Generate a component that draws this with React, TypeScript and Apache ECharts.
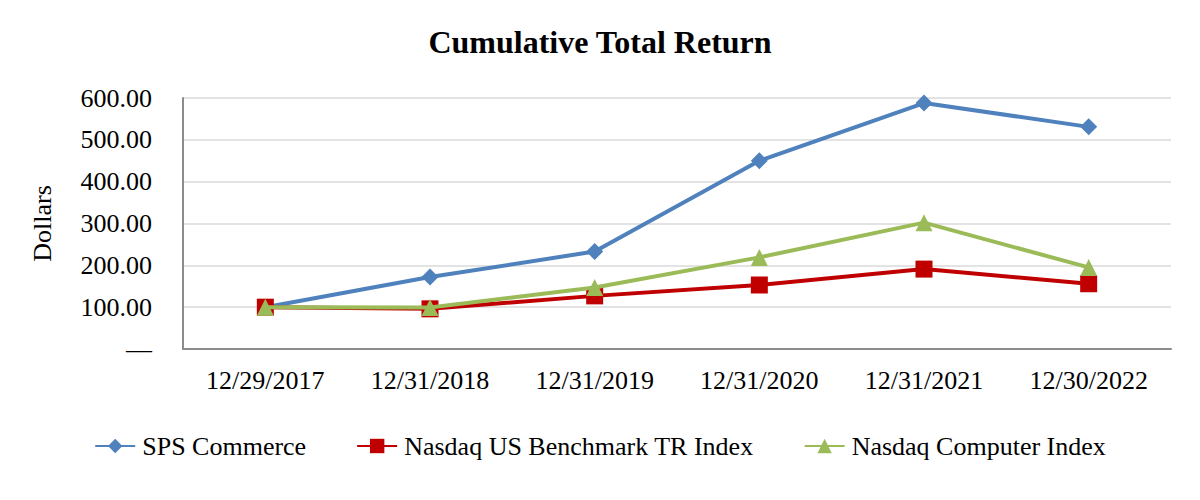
import React, { useEffect, useRef } from "react";
import * as echarts from "echarts";

const categories = ["12/29/2017", "12/31/2018", "12/31/2019", "12/31/2020", "12/31/2021", "12/30/2022"];
const spsCommerce = [100, 172, 233, 450, 588, 531];
const nasdaqBenchmark = [100, 96, 127, 153, 191, 156];
const nasdaqComputer = [100, 99, 147, 219, 302, 195];
const seriesNames = ["SPS Commerce", "Nasdaq US Benchmark TR Index", "Nasdaq Computer Index"];

const FONT = "'Liberation Serif', 'Times New Roman', serif";

export default function App() {
  const ref = useRef<HTMLDivElement>(null);
  useEffect(() => {
    document.body.style.margin = "0";
    const chart = echarts.init(ref.current!, null, { renderer: "svg" });
    chart.setOption({
      animation: false,
      backgroundColor: "#ffffff",
      title: {
        text: "Cumulative Total Return",
        left: "center",
        top: 21,
        textStyle: { fontFamily: FONT, fontSize: 32, fontWeight: "bold", color: "#000" },
      },
      legend: {
        bottom: 36,
        left: "center",
        itemWidth: 40,
        itemHeight: 18,
        itemGap: 50,
        textStyle: { fontFamily: FONT, fontSize: 26, color: "#000", padding: [0, 0, 0, 2] },
        data: seriesNames,
      },
      grid: { left: 183, right: 29, top: 98, bottom: 151 },
      xAxis: {
        type: "category",
        data: categories,
        boundaryGap: true,
        axisLine: { lineStyle: { color: "#8c8c8c", width: 2 } },
        axisTick: { alignWithLabel: true, length: 9, lineStyle: { color: "#8c8c8c", width: 2 } },
        axisLabel: { fontFamily: FONT, fontSize: 26, color: "#000", margin: 18 },
      },
      yAxis: {
        type: "value",
        min: 0,
        max: 600,
        interval: 100,
        name: "Dollars",
        nameLocation: "middle",
        nameGap: 128,
        nameTextStyle: { fontFamily: FONT, fontSize: 26, color: "#000" },
        axisLine: { show: true, lineStyle: { color: "#8c8c8c", width: 2 } },
        axisTick: { show: false },
        splitLine: { lineStyle: { color: "#e3e3e3", width: 2 } },
        axisLabel: {
          fontFamily: FONT,
          fontSize: 26,
          color: "#000",
          margin: 31,
          formatter: (v: number) => (v === 0 ? "—" : v.toFixed(2)),
        },
      },
      series: [
        {
          name: seriesNames[0],
          type: "line",
          data: spsCommerce,
          symbol: "diamond",
          symbolSize: 17,
          lineStyle: { color: "#4F81BD", width: 4 },
          itemStyle: { color: "#4F81BD" },
          z: 3,
        },
        {
          name: seriesNames[1],
          type: "line",
          data: nasdaqBenchmark,
          symbol: "rect",
          symbolSize: 17,
          lineStyle: { color: "#C00000", width: 4 },
          itemStyle: { color: "#C00000" },
          z: 4,
        },
        {
          name: seriesNames[2],
          type: "line",
          data: nasdaqComputer,
          symbol: "triangle",
          symbolSize: 17,
          lineStyle: { color: "#9BBB59", width: 4 },
          itemStyle: { color: "#9BBB59" },
          z: 5,
        },
      ],
    });
    return () => chart.dispose();
  }, []);
  return <div ref={ref} style={{ width: 1200, height: 500 }} />;
}
